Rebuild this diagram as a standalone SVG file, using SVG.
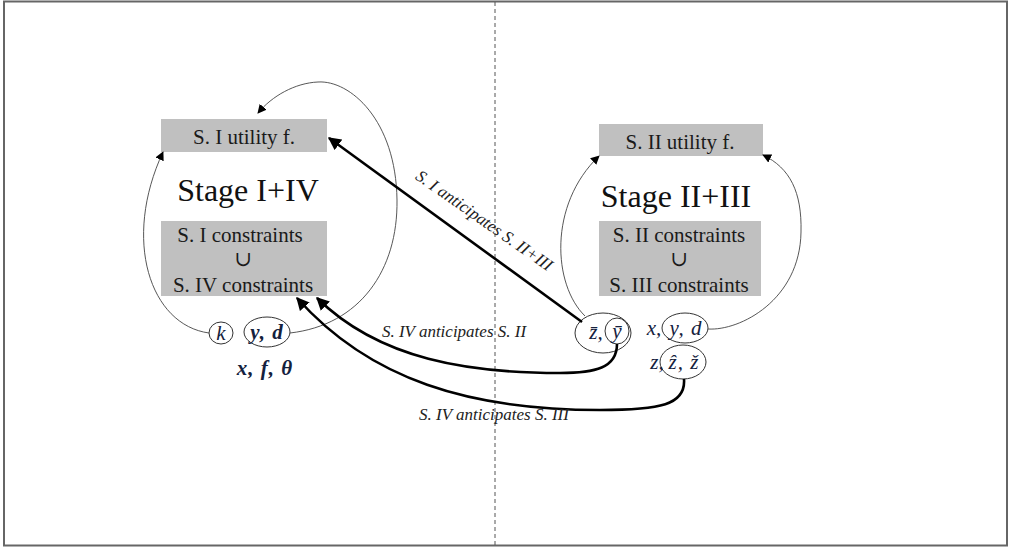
<svg xmlns="http://www.w3.org/2000/svg" width="1010" height="548" viewBox="0 0 1010 548">
  <style>
    text { font-family: "Liberation Serif", "Tinos", "Times New Roman", "DejaVu Serif", serif; }
    .box { fill: #c0c0c0; }
    .lbl { font-size: 21px; fill: #1a1a1a; text-anchor: middle; }
    .stage { font-size: 32px; fill: #111; text-anchor: middle; }
    .note { font-style: italic; font-size: 17px; fill: #222; text-anchor: middle; }
    .math { font-style: italic; font-size: 21px; fill: #14213d; text-anchor: middle; }
    .mathb { font-style: italic; font-weight: bold; font-size: 21px; fill: #14213d; text-anchor: middle; }
    .ring { fill: none; stroke: #333; stroke-width: 1; }
    .thin { fill: none; stroke: #444; stroke-width: 0.9; }
    .thick { fill: none; stroke: #000; stroke-width: 2.6; }
  </style>
  <defs>
    <marker id="ah" viewBox="0 0 10 10" refX="9" refY="5" markerWidth="9" markerHeight="9" markerUnits="userSpaceOnUse" orient="auto">
      <path d="M0,0 L10,5 L0,10 z" fill="#000"/>
    </marker>
    <marker id="ahb" viewBox="0 0 10 10" refX="9" refY="5" markerWidth="5" markerHeight="5" markerUnits="strokeWidth" orient="auto">
      <path d="M0,0 L10,5 L0,10 z" fill="#000"/>
    </marker>
  </defs>

  <!-- frame and divider -->
  <rect x="4" y="1.5" width="1003" height="544" fill="#fff" stroke="#666" stroke-width="2"/>
  <line x1="495" y1="2" x2="495" y2="546" stroke="#555" stroke-width="1" stroke-dasharray="4,3"/>

  <!-- Stage I+IV -->
  <g id="stage-1-4">
    <rect class="box" x="161" y="119" width="166" height="33"/>
    <text class="lbl" x="244" y="144">S. I utility f.</text>
    <text class="stage" x="248" y="201">Stage I+IV</text>
    <rect class="box" x="161" y="221" width="166" height="75"/>
    <text class="lbl" x="240" y="242">S. I constraints</text>
    <text class="lbl" x="243" y="266">∪</text>
    <text class="lbl" x="243" y="292">S. IV constraints</text>
  </g>

  <g id="node-k">
    <ellipse class="ring" cx="221" cy="333" rx="12" ry="11"/>
    <text class="math" x="221" y="340">k</text>
  </g>
  <g id="node-yd-left">
    <ellipse class="ring" cx="267" cy="332" rx="23" ry="15"/>
    <text class="mathb" x="267" y="339" letter-spacing="1">y, d</text>
  </g>
  <g id="node-xftheta">
    <text class="mathb" x="265" y="375" letter-spacing="1">x, f, θ</text>
  </g>

  <!-- Stage II+III -->
  <g id="stage-2-3">
    <rect class="box" x="599" y="124" width="164" height="32"/>
    <text class="lbl" x="680" y="149">S. II utility f.</text>
    <text class="stage" x="676" y="207">Stage II+III</text>
    <rect class="box" x="599" y="221" width="162" height="75"/>
    <text class="lbl" x="679" y="242">S. II constraints</text>
    <text class="lbl" x="679" y="266">∪</text>
    <text class="lbl" x="679" y="292">S. III constraints</text>
  </g>

  <g id="node-zbar-ybar">
    <ellipse class="ring" cx="603" cy="333" rx="28" ry="20"/>
    <ellipse class="ring" cx="617" cy="331" rx="12" ry="13"/>
    <text class="math" x="596" y="339">z̄,</text>
    <text class="math" x="617" y="338">ȳ</text>
  </g>
  <g id="node-xyd-right">
    <ellipse class="ring" cx="685" cy="328" rx="23" ry="15"/>
    <text class="math" x="654" y="335">x,</text>
    <text class="math" x="686" y="335" letter-spacing="1">y, d</text>
  </g>
  <g id="node-z-hat-check">
    <ellipse class="ring" cx="683" cy="362" rx="23" ry="17"/>
    <text class="math" x="657" y="369">z,</text>
    <text class="math" x="684" y="369" letter-spacing="1">ẑ, ž</text>
  </g>

  <!-- connectors -->
  <g id="connectors">
    <!-- feedback loops inside each stage -->
    <path class="thin" marker-end="url(#ah)" d="M209,333 C150,325 122,240 163,152"/>
    <path class="thin" marker-end="url(#ah)" d="M290,333 C360,325 398,270 397,200 C396,120 350,80 318,82 C295,83 272,96 258,113"/>
    <path class="thin" marker-end="url(#ah)" d="M585,316 C553,285 548,205 599,156"/>
    <path class="thin" marker-end="url(#ah)" d="M708,329 C740,331 800,300 801,232 C802,192 790,168 763,155"/>

    <!-- anticipation arrows -->
    <path class="thick" marker-end="url(#ahb)" d="M582,322 L329,138"/>
    <path class="thick" marker-end="url(#ahb)" d="M617,344 C617,368 595,373 560,373 C470,373 380,360 317,298"/>
    <path class="thick" marker-end="url(#ahb)" d="M684,379 C686,405 660,410 600,410 C470,410 370,380 297,298"/>

    <text class="note" transform="translate(481,225) rotate(35)">S. I anticipates S. II+III</text>
    <text class="note" x="454" y="337">S. IV anticipates S. II</text>
    <text class="note" x="494" y="420">S. IV anticipates S. III</text>
  </g>
</svg>
